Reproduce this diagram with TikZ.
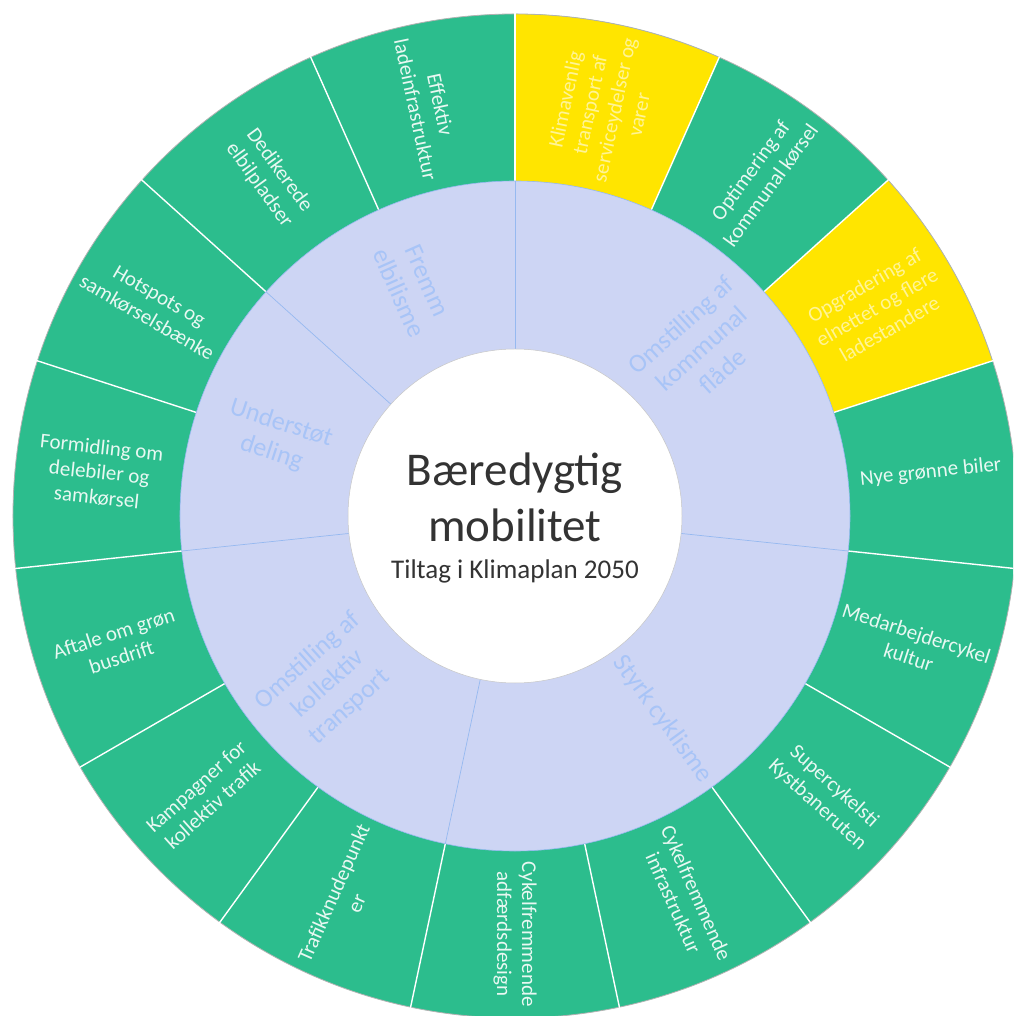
\documentclass[tikz,border=0pt]{standalone}
\usepackage{fontspec}
\setmainfont{Carlito}
\definecolor{ringgreen}{RGB}{44,189,141}
\definecolor{ringlav}{RGB}{205,213,244}
\definecolor{ringyel}{RGB}{255,229,0}
\definecolor{lavtext}{RGB}{168,196,247}
\definecolor{lavline}{RGB}{150,185,240}
\definecolor{greentext}{RGB}{232,248,242}
\definecolor{yeltext}{RGB}{255,244,150}
\definecolor{darktext}{RGB}{51,51,51}
\begin{document}
\begin{tikzpicture}[x=1pt,y=1pt,
  outerlbl/.style={align=center,font=\fontsize{21}{25}\selectfont,text=greentext,inner sep=0pt},
  yellbl/.style={outerlbl,text=yeltext},
  innerlbl/.style={align=center,font=\fontsize{26}{31}\selectfont,text=lavtext,inner sep=0pt},
  divider/.style={white,line width=1.4pt},
  innerdiv/.style={lavline,line width=0.7pt}]
\useasboundingbox (-515,-500) rectangle (498,516);
\clip (-515,-500) rectangle (498,516);
\fill[white] (-515,-500) rectangle (498,516);
% outer ring
\fill[ringgreen] (0,0) circle[radius=502pt];
\fill[ringyel] (0,0) -- (66:502pt) arc[start angle=66,end angle=90,radius=502pt] -- cycle;
\fill[ringyel] (0,0) -- (18:502pt) arc[start angle=18,end angle=42,radius=502pt] -- cycle;
\draw[gray!60,line width=0.8pt] (0,0) circle[radius=502pt];
\foreach \a in {90,66,42,18,-6,-30,-54,-78,-102,-126,-150,-174,-198,-222,-246}
  \draw[divider] (\a:330pt) -- (\a:503pt);
% inner ring
\fill[ringlav] (0,0) circle[radius=335pt];
\draw[lavline,line width=0.6pt] (0,0) circle[radius=335pt];
\foreach \a in {90,-6,-102,186,138}
  \draw[innerdiv] (\a:167pt) -- (\a:335pt);
% centre
\fill[white] (0,0) circle[radius=167pt];
\draw[gray!45,line width=0.5pt] (0,0) circle[radius=167pt];
\node[font=\fontsize{47}{56}\selectfont,text=darktext,anchor=base] (title1) at (0,30) {Bæredygtig};
\node[font=\fontsize{47}{56}\selectfont,text=darktext,anchor=base] (title2) at (0,-26) {mobilitet};
\node[font=\fontsize{27}{32}\selectfont,text=darktext,anchor=base] (subtitle) at (0,-63) {Tiltag i Klimaplan 2050};
% inner labels
\node[innerlbl,rotate=42] (kommunal) at (42:251pt) {Omstilling af\\kommunal\\flåde};
\node[innerlbl,rotate=-54] (cyklisme) at (-54:251pt) {Styrk cyklisme};
\node[innerlbl,rotate=42] (kollektiv) at (222:251pt) {Omstilling af\\kollektiv\\transport};
\node[innerlbl,rotate=-18] (deling) at (162:251pt) {Understøt\\deling};
\node[innerlbl,rotate=-66] (elbilisme) at (114:251pt) {Fremm\\elbilisme};
% outer labels
\node[yellbl,rotate=78] (o1) at (78:418pt) {Klimavenlig\\transport af\\serviceydelser og\\varer};
\node[outerlbl,rotate=54] (o2) at (54:418pt) {Optimering af\\kommunal kørsel};
\node[yellbl,rotate=30] (o3) at (30:418pt) {Opgradering af\\elnettet og flere\\ladestandere};
\node[outerlbl,rotate=6] (o4) at (6:418pt) {Nye grønne biler};
\node[outerlbl,rotate=-18] (o5) at (-18:418pt) {Medarbejdercykel\\kultur};
\node[outerlbl,rotate=-42] (o6) at (-42:418pt) {Supercykelsti\\Kystbaneruten};
\node[outerlbl,rotate=-66] (o7) at (-66:418pt) {Cykelfremmende\\infrastruktur};
\node[outerlbl,rotate=-90] (o8) at (-90:418pt) {Cykelfremmende\\adfærdsdesign};
\node[outerlbl,rotate=66] (o9) at (-114:418pt) {Trafikknudepunkt\\er};
\node[outerlbl,rotate=42] (o10) at (-138:418pt) {Kampagner for\\kollektiv trafik};
\node[outerlbl,rotate=18] (o11) at (-162:418pt) {Aftale om grøn\\busdrift};
\node[outerlbl,rotate=-6] (o12) at (-186:418pt) {Formidling om\\delebiler og\\samkørsel};
\node[outerlbl,rotate=-30] (o13) at (-210:418pt) {Hotspots og\\samkørselsbænke};
\node[outerlbl,rotate=-54] (o14) at (-234:418pt) {Dedikerede\\elbilpladser};
\node[outerlbl,rotate=-78] (o15) at (-258:418pt) {Effektiv\\ladeinfrastruktur};
\end{tikzpicture}
\end{document}
